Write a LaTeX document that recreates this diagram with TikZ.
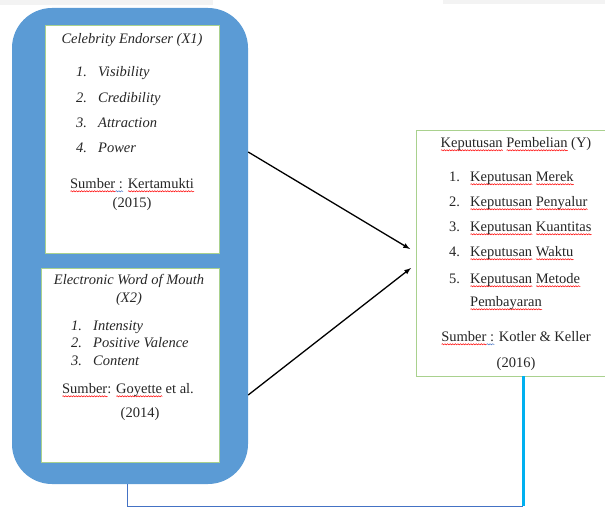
\documentclass[tikz,border=0pt]{standalone}
\usepackage{fontspec}
\setmainfont{Liberation Serif}
\usetikzlibrary{decorations.pathmorphing}% wavy underlines
\definecolor{panelblue}{HTML}{5B9BD5}
\definecolor{cardgreen}{HTML}{A9D18E}
\definecolor{linkblue}{HTML}{4472C4}
\definecolor{feedcyan}{HTML}{00B0F0}
\definecolor{gramblue}{HTML}{4472C4}
\definecolor{stripgray}{HTML}{F3F3F3}
\newcommand{\wavy}[2]{\setbox0\hbox{#2}\rlap{\tikz[baseline=0pt]\draw[#1,line width=0.5pt,decorate,
  decoration={snake,amplitude=0.6pt,segment length=2.6pt}] (0pt,-2.8pt) -- (\the\wd0,-2.8pt);}#2}
\newcommand{\spell}[1]{\wavy{red}{#1}}
\newcommand{\gram}[1]{\wavy{gramblue}{#1}}
\tikzset{every node/.style={font=\fontsize{14.5pt}{17pt}\selectfont,inner sep=0pt,text=black!85},
  panel/.style={fill=panelblue,rounded corners=40pt},
  card/.style={draw=cardgreen,line width=0.8pt,fill=white},
  txt/.style={text height=10pt,text depth=3pt},
  num/.style={txt,anchor=west},
  entry/.style={txt,anchor=west},
  flow/.style={-latex,line width=1.3pt},
  thinlink/.style={draw=linkblue,line width=1pt},
  feed/.style={draw=feedcyan,line width=3pt}}

\begin{document}
\begin{tikzpicture}[x=1pt,y=-1pt]
\useasboundingbox (0,0) rectangle (605,508);
\clip (0,0) rectangle (605,508);
\fill[stripgray] (0,0) rectangle (213,5);
\fill[stripgray] (443,0) rectangle (605,4);
\node[panel,minimum width=236pt,minimum height=476pt] (outer) at (130,246) {};
\node[card,minimum width=174pt,minimum height=228pt] (celeb) at (132,139) {};
\node[card,minimum width=178pt,minimum height=194pt] (ewom) at (130,365) {};
\node[card,minimum width=199pt,minimum height=246pt] (kep) at (515.5,253) {};
% X1
\node[txt] (celebtitle) at (132,40) {\textit{Celebrity Endorser (X1)}};
\foreach \n/\w/\y in {1/Visibility/73,2/Credibility/99,3/Attraction/124,4/Power/149}
  {\node[num] (cnum\n) at (76,\y) {\textit{\n.}};
   \node[entry] (citem\n) at (98,\y) {\textit{\w}};}
\node[txt] (celebsrc) at (132,185) {\spell{Sumber}\gram{ :} \spell{Kertamukti}};
\node[txt] (celebyear) at (132,204) {(2015)};
% X2
\node[txt] (ewomtitle) at (129,281) {\textit{Electronic Word of Mouth}};
\node[txt] (ewomtag) at (129,299) {\textit{(X2)}};
\foreach \n/\w/\y in {1/Intensity/327,2/Positive Valence/344,3/Content/362}
  {\node[num] (enum\n) at (71,\y) {\textit{\n.}};
   \node[entry] (eitem\n) at (93,\y) {\textit{\w}};}
\node[txt] (ewomsrc) at (128,390) {\spell{Sumber}: \spell{Goyette} et al.};
\node[txt] (ewomyear) at (140,414) {(2014)};
% Y
\node[txt] (keptitle) at (516,144) {\spell{Keputusan} \spell{Pembelian} (Y)};
\foreach \n/\w/\y in {1/Merek/178,2/Penyalur/203,3/Kuantitas/228,4/Waktu/253,5/Metode/280}
  {\node[num] (knum\n) at (449,\y) {\n.};
   \node[entry] (kitem\n) at (470,\y) {\spell{Keputusan} \spell{\w}};}
\node[entry] (kitem6) at (470,303) {\spell{Pembayaran}};
\node[txt] (kepsrc) at (516,338) {\spell{Sumber}\gram{ :} Kotler \& Keller};
\node[txt] (kepyear) at (516,364) {(2016)};
% links
\coordinate (in1) at (410,249);
\coordinate (in2) at (411,268);
\draw[flow] (outer.east |- 0,152) -- (in1);
\draw[flow] (outer.east |- 0,395) -- (in2);
\coordinate (bend) at (523,506);
\draw[thinlink] (outer.south -| 127,0) |- (bend);
\draw[feed] (kep.south -| bend) -- (bend);
\end{tikzpicture}
\end{document}
